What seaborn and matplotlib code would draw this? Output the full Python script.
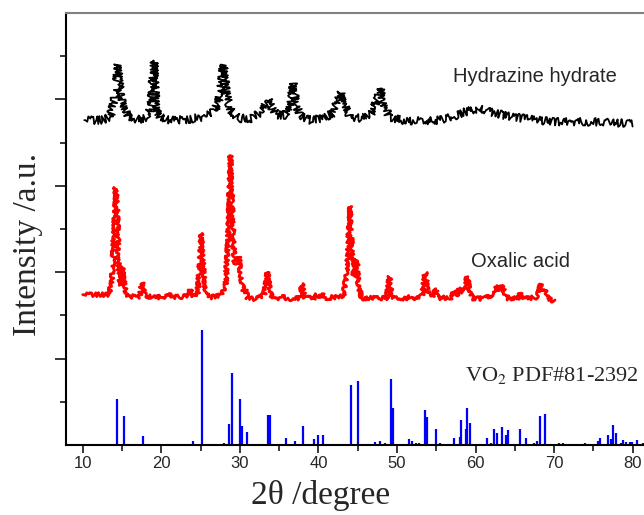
import matplotlib
matplotlib.use("Agg")
import matplotlib.pyplot as plt
import seaborn as sns
import pandas as pd

# Hydrazine hydrate pattern: (2theta, intensity offset) vertices
hyd_2theta = [10.2, 12.5, 13.5, 14.0, 14.3, 14.5, 14.7, 15.2, 15.8, 17.0, 18.0, 18.7, 19.05,
              19.3, 19.9, 21.0, 23.5, 25.5, 26.8, 27.5, 27.9, 28.3, 28.8, 29.8, 31.5, 32.5,
              33.3, 33.7, 34.1, 34.7, 35.8, 36.5, 36.8, 37.1, 37.7, 39.0, 40.5, 41.8, 42.5,
              42.8, 43.2, 44.0, 45.5, 46.7, 47.5, 47.9, 48.3, 49.0, 50.5, 53.0, 55.5, 57.0,
              58.5, 60.5, 62.5, 64.5, 67.0, 70.0, 75.0, 80.0]
hyd_int = [3.76, 3.76, 3.80, 3.98, 4.20, 4.40, 4.15, 3.92, 3.80, 3.77, 3.78, 3.90, 4.45,
           3.90, 3.79, 3.76, 3.77, 3.80, 3.86, 4.05, 4.40, 4.05, 3.88, 3.78, 3.78, 3.84,
           3.95, 4.00, 3.90, 3.82, 3.82, 3.98, 4.19, 3.95, 3.80, 3.76, 3.78, 3.84, 4.00,
           4.08, 3.95, 3.80, 3.78, 3.83, 4.00, 4.13, 3.95, 3.80, 3.76, 3.75, 3.76, 3.80,
           3.85, 3.90, 3.84, 3.80, 3.77, 3.74, 3.74, 3.72]

# Oxalic acid pattern
oxa_2theta = [10.0, 12.0, 13.2, 13.7, 14.0, 14.2, 14.4, 14.6, 14.8, 15.05, 15.3, 15.6, 17.2,
              17.6, 17.9, 19.5, 20.6, 20.9, 21.2, 23.4, 23.7, 24.0, 24.6, 24.9, 25.1, 25.3,
              25.6, 26.2, 27.5, 28.2, 28.5, 28.8, 29.0, 29.3, 29.6, 29.9, 30.1, 30.5, 30.7,
              31.0, 32.0, 33.1, 33.5, 33.8, 34.1, 35.5, 35.7, 36.0, 37.6, 37.95, 38.2, 39.6,
              39.8, 40.1, 40.5, 40.8, 43.2, 43.7, 44.0, 44.25, 44.5, 44.9, 45.1, 45.5, 48.7,
              49.05, 49.3, 51.3, 51.6, 51.9, 53.2, 53.6, 53.9, 54.6, 54.9, 55.2, 57.0, 57.3,
              57.6, 58.0, 58.3, 58.6, 58.95, 59.3, 59.8, 61.3, 61.6, 61.9, 62.2, 62.5, 62.8,
              63.1, 63.4, 63.7, 64.2, 65.5, 65.7, 65.9, 67.7, 68.1, 68.3, 68.6, 68.9, 69.2,
              70.0]
oxa_int = [1.74, 1.74, 1.74, 1.85, 2.50, 2.98, 2.70, 2.00, 1.85, 2.06, 1.85, 1.72, 1.72,
           1.88, 1.72, 1.71, 1.72, 1.76, 1.71, 1.72, 1.80, 1.72, 1.74, 2.10, 2.45, 2.10,
           1.75, 1.71, 1.73, 1.85, 2.40, 3.35, 2.80, 2.10, 2.10, 2.18, 1.95, 1.78, 1.80,
           1.70, 1.69, 1.74, 2.00, 1.80, 1.70, 1.70, 1.73, 1.69, 1.70, 1.87, 1.70, 1.71,
           1.74, 1.70, 1.75, 1.70, 1.72, 2.10, 2.76, 2.30, 1.95, 2.14, 1.85, 1.70, 1.70,
           1.95, 1.72, 1.69, 1.72, 1.69, 1.73, 2.00, 1.78, 1.71, 1.81, 1.70, 1.71, 1.79,
           1.72, 1.82, 1.76, 1.82, 1.95, 1.75, 1.69, 1.70, 1.73, 1.70, 1.76, 1.85, 1.78,
           1.80, 1.85, 1.75, 1.69, 1.70, 1.76, 1.69, 1.71, 1.78, 1.86, 1.78, 1.80, 1.70,
           1.66]

# VO2 reference card PDF#81-2392: line positions and relative heights
ref_2theta = [14.36, 15.31, 17.68, 23.98, 25.21, 28.0, 28.58, 28.96, 30.05, 30.28, 30.9,
              33.55, 33.8, 35.88, 37.0, 38.06, 39.38, 39.95, 40.6, 42.2, 44.12, 44.98, 46.3,
              47.2, 47.8, 48.5, 49.19, 49.43, 50.2, 51.56, 51.85, 52.4, 52.8, 53.6, 53.84,
              55.02, 55.5, 56.3, 57.3, 57.96, 58.15, 58.72, 58.96, 59.29, 60.1, 61.4, 62.0,
              62.4, 62.7, 63.36, 63.9, 64.1, 65.7, 66.4, 67.4, 67.8, 68.2, 68.86, 69.8,
              70.57, 71.1, 72.2, 73.9, 74.8, 75.6, 75.9, 76.9, 77.2, 77.5, 77.9, 78.5, 78.8,
              79.2, 79.6, 79.9, 80.5, 81.3]
ref_int = [0.53, 0.33, 0.10, 0.05, 1.33, 0.02, 0.24, 0.83, 0.53, 0.22, 0.155, 0.35, 0.35,
           0.08, 0.05, 0.22, 0.07, 0.11, 0.11, 0.01, 0.69, 0.74, 0.01, 0.04, 0.05, 0.02,
           0.76, 0.43, 0.01, 0.07, 0.05, 0.02, 0.02, 0.41, 0.32, 0.18, 0.02, 0.01, 0.085,
           0.093, 0.29, 0.19, 0.43, 0.26, 0.01, 0.078, 0.02, 0.18, 0.14, 0.21, 0.12, 0.17,
           0.18, 0.085, 0.02, 0.05, 0.33, 0.36, 0.01, 0.02, 0.02, 0.01, 0.02, 0.01, 0.05,
           0.085, 0.12, 0.066, 0.23, 0.135, 0.02, 0.054, 0.03, 0.03, 0.03, 0.06, 0.02]

x_ticks = [10, 20, 30, 40, 50, 60, 70, 80]

sns.set_style("ticks")
plt.rcParams["font.family"] = ["Liberation Sans", "DejaVu Sans"]
plt.rcParams["mathtext.fontset"] = "stix"

fig = plt.figure(figsize=(6.44, 5.15), dpi=100)
ax = fig.add_axes([66 / 644, 1 - 445 / 515, (644 - 66) / 644, (445 - 13) / 515])

hyd = pd.DataFrame({"two_theta": hyd_2theta, "intensity": hyd_int})
oxa = pd.DataFrame({"two_theta": oxa_2theta, "intensity": oxa_int})

sns.lineplot(data=hyd, x="two_theta", y="intensity", color="black", lw=1.3,
             estimator=None, sort=False, ax=ax)
sns.lineplot(data=oxa, x="two_theta", y="intensity", color="#ff0000", lw=2.0,
             estimator=None, sort=False, ax=ax)
# counting noise of the scans rendered as a jittered stroke
ax.lines[0].set_sketch_params(scale=4.0, length=0.05, randomness=20)
ax.lines[1].set_sketch_params(scale=2.0, length=0.05, randomness=20)

ax.vlines(ref_2theta, 0, ref_int, color="#0000ff", lw=1.6)

ax.text(57.13, 4.27, "Hydrazine hydrate", fontsize=14.5, ha="left", va="center")
ax.text(59.4, 2.12, "Oxalic acid", fontsize=14.5, ha="left", va="center")
ax.text(58.65, 0.80, r"VO$_2$ PDF#81-2392", fontsize=16, ha="left", va="center",
        family="Liberation Serif")

ax.set_xlim(7.87, 81.44)
ax.set_ylim(0, 5)
ax.set_xticks(x_ticks)
ax.set_xticks([15, 25, 35, 45, 55, 65, 75], minor=True)
ax.set_yticks([1, 2, 3, 4])
ax.set_yticks([0.5, 1.5, 2.5, 3.5, 4.5], minor=True)
ax.set_yticklabels([])
ax.tick_params(axis="x", which="major", length=6, width=1.3, labelsize=12, pad=2)
ax.tick_params(axis="x", which="minor", length=4, width=1.3)
ax.tick_params(axis="y", which="major", length=8, width=1.3)
ax.tick_params(axis="y", which="minor", length=4.5, width=1.3)

for side in ("left", "bottom"):
    ax.spines[side].set_linewidth(1.5)
    ax.spines[side].set_color("black")
ax.spines["top"].set_color("#808080")
ax.spines["top"].set_linewidth(1.5)
ax.spines["right"].set_visible(False)

ax.set_xlabel("2θ /degree", family="Liberation Serif", fontsize=24)
ax.set_ylabel("Intensity /a.u.", family="Liberation Serif", fontsize=24)
ax.xaxis.set_label_coords(0.441, -0.082)
ax.yaxis.set_label_coords(-0.04, 0.465)
ax.xaxis.label.set_va("top")

fig.savefig("out.png", dpi=100)
